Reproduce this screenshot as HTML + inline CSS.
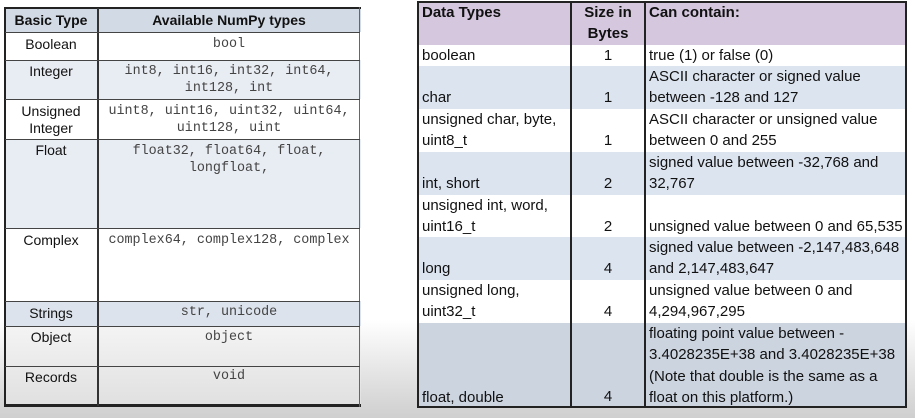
<!DOCTYPE html>
<html><head><style>
body{margin:0;width:915px;height:418px;overflow:hidden;position:relative;
background:linear-gradient(to bottom,#fff 0,#fff 320px,#e6e6e6 370px,#cfcfcf 418px);font-family:"Liberation Sans",sans-serif;}
.a{position:absolute;box-sizing:border-box;}
.l{font-size:14px;color:#111;text-align:center;}
.m{font-family:"Liberation Mono",monospace;font-size:13.4px;color:#444;text-align:center;line-height:17px;}
.r{font-size:15px;color:#111;line-height:21.4px;padding-left:3px;white-space:nowrap;letter-spacing:0px}
</style></head><body>
<div class="a" style="left:5px;top:8px;width:356px;height:24px;background:#d2dae5"></div>
<div class="a" style="left:5px;top:60px;width:356px;height:39px;background:#e8ecf3"></div>
<div class="a" style="left:5px;top:139px;width:356px;height:89px;background:#e8ecf3"></div>
<div class="a" style="left:5px;top:301px;width:356px;height:25px;background:#dde3ec"></div>
<div class="a" style="left:5px;top:326px;width:356px;height:80px;background:rgba(235,235,235,0.5)"></div>
<div class="a" style="left:4px;top:7px;width:357px;height:400px;border:2px solid #222;border-right:none;border-top-width:2px;border-bottom-width:3px"></div>
<div class="a" style="left:359px;top:7px;width:1px;height:400px;background:#666"></div>
<div class="a" style="left:97px;top:8px;width:1.5px;height:398px;background:#333"></div>
<div class="a" style="left:5px;top:32px;width:355px;height:1px;background:#444"></div>
<div class="a" style="left:5px;top:60px;width:355px;height:1px;background:#444"></div>
<div class="a" style="left:5px;top:99px;width:355px;height:1px;background:#444"></div>
<div class="a" style="left:5px;top:139px;width:355px;height:1px;background:#444"></div>
<div class="a" style="left:5px;top:228px;width:355px;height:1px;background:#444"></div>
<div class="a" style="left:5px;top:301px;width:355px;height:1px;background:#444"></div>
<div class="a" style="left:5px;top:326px;width:355px;height:1px;background:#444"></div>
<div class="a" style="left:5px;top:366px;width:355px;height:1px;background:#444"></div>

<div class="a l" style="left:5px;top:12px;width:92px;font-weight:bold">Basic Type</div>
<div class="a l" style="left:98px;top:12px;width:262px;font-weight:bold">Available NumPy types</div>
<div class="a l" style="left:5px;top:36px;width:92px">Boolean</div>
<div class="a l" style="left:5px;top:63px;width:92px">Integer</div>
<div class="a l" style="left:5px;top:103px;width:92px;line-height:17px">Unsigned<br>Integer</div>
<div class="a l" style="left:5px;top:142px;width:92px">Float</div>
<div class="a l" style="left:5px;top:232px;width:92px">Complex</div>
<div class="a l" style="left:5px;top:305px;width:92px">Strings</div>
<div class="a l" style="left:5px;top:329px;width:92px">Object</div>
<div class="a l" style="left:5px;top:369px;width:92px">Records</div>

<div class="a m" style="left:98px;top:36px;width:262px">bool</div>
<div class="a m" style="left:98px;top:63px;width:262px">int8, int16, int32, int64,<br>int128, int</div>
<div class="a m" style="left:98px;top:103px;width:262px">uint8, uint16, uint32, uint64,<br>uint128, uint</div>
<div class="a m" style="left:98px;top:143px;width:262px">float32, float64, float,<br>longfloat,</div>
<div class="a m" style="left:98px;top:232px;width:262px">complex64, complex128, complex</div>
<div class="a m" style="left:98px;top:304px;width:262px">str, unicode</div>
<div class="a m" style="left:98px;top:329px;width:262px">object</div>
<div class="a m" style="left:98px;top:368px;width:262px">void</div>

<div class="a" style="left:418px;top:2px;width:487px;height:43px;background:#d4c7de"></div>
<div class="a" style="left:418px;top:66px;width:487px;height:43px;background:#dce4f0"></div>
<div class="a" style="left:418px;top:152px;width:487px;height:43px;background:#dce4f0"></div>
<div class="a" style="left:418px;top:237px;width:487px;height:43px;background:#dce4f0"></div>
<div class="a" style="left:418px;top:323px;width:487px;height:84px;background:#ccd4e0"></div>
<div class="a" style="left:417px;top:1px;width:490px;height:407px;border:2px solid #222"></div>
<div class="a" style="left:570px;top:2px;width:2px;height:405px;background:#222"></div>
<div class="a" style="left:644px;top:2px;width:2px;height:405px;background:#222"></div>

<div class="a r" style="left:419px;top:2px;font-weight:bold">Data Types</div>
<div class="a r" style="left:572px;top:2px;width:72px;text-align:center;padding:0;font-weight:bold">Size in<br>Bytes</div>
<div class="a r" style="left:646px;top:2px;font-weight:bold">Can contain:</div>

<div class="a r" style="left:419px;top:45px">boolean</div>
<div class="a r" style="left:419px;top:66px"><br>char</div>
<div class="a r" style="left:419px;top:109px">unsigned char, byte,<br>uint8_t</div>
<div class="a r" style="left:419px;top:152px"><br>int, short</div>
<div class="a r" style="left:419px;top:195px">unsigned int, word,<br>uint16_t</div>
<div class="a r" style="left:419px;top:237px"><br>long</div>
<div class="a r" style="left:419px;top:280px">unsigned long,<br>uint32_t</div>
<div class="a r" style="left:419px;top:323px"><br><br><br>float, double</div>

<div class="a r" style="left:572px;top:45px;width:72px;text-align:center;padding:0">1</div>
<div class="a r" style="left:572px;top:87px;width:72px;text-align:center;padding:0">1</div>
<div class="a r" style="left:572px;top:130px;width:72px;text-align:center;padding:0">1</div>
<div class="a r" style="left:572px;top:173px;width:72px;text-align:center;padding:0">2</div>
<div class="a r" style="left:572px;top:216px;width:72px;text-align:center;padding:0">2</div>
<div class="a r" style="left:572px;top:258px;width:72px;text-align:center;padding:0">4</div>
<div class="a r" style="left:572px;top:301px;width:72px;text-align:center;padding:0">4</div>
<div class="a r" style="left:572px;top:386px;width:72px;text-align:center;padding:0">4</div>

<div class="a r" style="left:646px;top:45px">true (1) or false (0)</div>
<div class="a r" style="left:646px;top:66px">ASCII character or signed value<br>between -128 and 127</div>
<div class="a r" style="left:646px;top:109px">ASCII character or unsigned value<br>between 0 and 255</div>
<div class="a r" style="left:646px;top:152px">signed value between -32,768 and<br>32,767</div>
<div class="a r" style="left:646px;top:216px">unsigned value between 0 and 65,535</div>
<div class="a r" style="left:646px;top:237px">signed value between -2,147,483,648<br>and 2,147,483,647</div>
<div class="a r" style="left:646px;top:280px">unsigned value between 0 and<br>4,294,967,295</div>
<div class="a r" style="left:646px;top:323px">floating point value between -<br>3.4028235E+38 and 3.4028235E+38<br>(Note that double is the same as a<br>float on this platform.)</div>
</body></html>
